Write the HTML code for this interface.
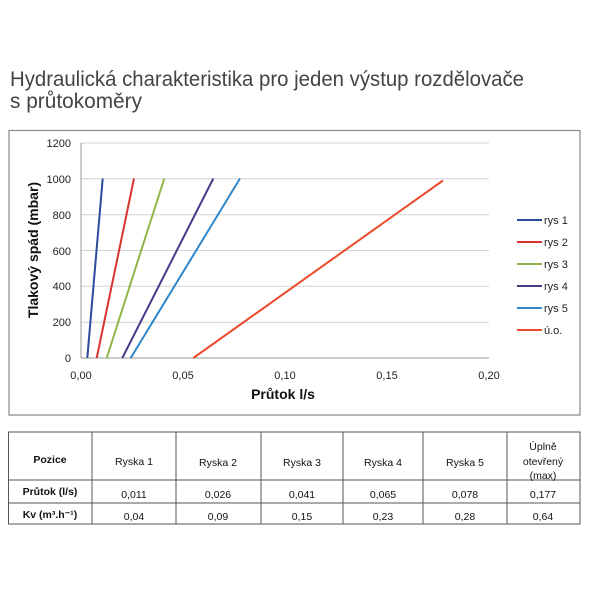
<!DOCTYPE html>
<html><head><meta charset="utf-8"><style>
body{margin:0;background:#fff;width:600px;height:600px;overflow:hidden}
svg{display:block}
</style></head><body>
<svg width="600" height="600" xmlns="http://www.w3.org/2000/svg" font-family="Liberation Sans, sans-serif">
<rect width="600" height="600" fill="#fff"/>
<text x="10" y="86" font-size="21" fill="#444" textLength="514" lengthAdjust="spacingAndGlyphs">Hydraulická charakteristika pro jeden výstup rozdělovače</text>
<text x="10" y="108" font-size="21" fill="#444" textLength="132" lengthAdjust="spacingAndGlyphs">s průtokoměry</text>
<rect x="9" y="130.5" width="571" height="284.5" fill="none" stroke="#888" stroke-width="1.2"/>
<g stroke="#d4d4d4" stroke-width="1">
<line x1="81" y1="143" x2="489" y2="143"/><line x1="81" y1="178.8" x2="489" y2="178.8"/>
<line x1="81" y1="214.7" x2="489" y2="214.7"/><line x1="81" y1="250.5" x2="489" y2="250.5"/>
<line x1="81" y1="286.3" x2="489" y2="286.3"/><line x1="81" y1="322.2" x2="489" y2="322.2"/>
<line x1="81" y1="358" x2="489" y2="358"/>
</g>
<line x1="81" y1="143" x2="81" y2="358" stroke="#999"/>
<line x1="81" y1="358" x2="489" y2="358" stroke="#999"/>
<g font-size="11" fill="#222" text-anchor="end">
<text x="71" y="147">1200</text><text x="71" y="183">1000</text><text x="71" y="219">800</text>
<text x="71" y="255">600</text><text x="71" y="290">400</text><text x="71" y="326">200</text><text x="71" y="362">0</text>
</g>
<g font-size="11" fill="#222" text-anchor="middle">
<text x="81" y="379">0,00</text><text x="183" y="379">0,05</text><text x="285" y="379">0,10</text>
<text x="387" y="379">0,15</text><text x="489" y="379">0,20</text>
</g>
<text x="283" y="399" font-size="14" font-weight="bold" text-anchor="middle" fill="#111">Průtok l/s</text>
<text transform="translate(38,250) rotate(-90)" font-size="14" font-weight="bold" text-anchor="middle" fill="#111">Tlakový spád (mbar)</text>
<g stroke-width="2" fill="none">
<line x1="87.3" y1="358" x2="102.7" y2="178.5" stroke="#2b4c9b"/>
<line x1="96.7" y1="358" x2="134" y2="178.5" stroke="#d9342f"/>
<line x1="106.7" y1="358" x2="164.3" y2="178.5" stroke="#90b548"/>
<line x1="122.3" y1="358" x2="213.3" y2="178.5" stroke="#4a3a8a"/>
<line x1="130.7" y1="358" x2="240" y2="178.5" stroke="#2f86c8"/>
<line x1="193.3" y1="358" x2="443" y2="180.5" stroke="#ec4a2c"/>
</g>
<g stroke-width="2">
<line x1="517" y1="220" x2="542" y2="220" stroke="#2b4c9b"/>
<line x1="517" y1="242" x2="542" y2="242" stroke="#d9342f"/>
<line x1="517" y1="264" x2="542" y2="264" stroke="#90b548"/>
<line x1="517" y1="286" x2="542" y2="286" stroke="#4a3a8a"/>
<line x1="517" y1="308" x2="542" y2="308" stroke="#2f86c8"/>
<line x1="517" y1="330" x2="542" y2="330" stroke="#ec4a2c"/>
</g>
<g font-size="11" fill="#222">
<text x="544" y="224">rys 1</text><text x="544" y="246">rys 2</text><text x="544" y="268">rys 3</text>
<text x="544" y="290">rys 4</text><text x="544" y="312">rys 5</text><text x="544" y="334">ú.o.</text>
</g>
<g stroke="#555" stroke-width="1" fill="none">
<rect x="8.5" y="432" width="571.5" height="92"/>
<line x1="8.5" y1="480" x2="580" y2="480"/><line x1="8.5" y1="503" x2="580" y2="503"/>
<line x1="92" y1="432" x2="92" y2="524"/><line x1="176" y1="432" x2="176" y2="524"/>
<line x1="261" y1="432" x2="261" y2="524"/><line x1="343" y1="432" x2="343" y2="524"/>
<line x1="423" y1="432" x2="423" y2="524"/><line x1="507" y1="432" x2="507" y2="524"/>
</g>
<g font-size="10.5" fill="#111" text-anchor="middle">
<text x="50" y="463" font-weight="bold">Pozice</text>
<text x="134" y="465">Ryska 1</text><text x="218" y="466">Ryska 2</text><text x="302" y="466">Ryska 3</text>
<text x="383" y="466">Ryska 4</text><text x="465" y="466">Ryska 5</text>
<text x="543" y="450">Úplně</text><text x="543" y="465">otevřený</text><text x="543" y="479">(max)</text>
<text x="50" y="495" font-weight="bold">Průtok (l/s)</text>
<text x="134" y="498">0,011</text><text x="218" y="498">0,026</text><text x="302" y="498">0,041</text>
<text x="383" y="498">0,065</text><text x="465" y="498">0,078</text><text x="543" y="498">0,177</text>
<text x="50" y="518" font-weight="bold">Kv (m³.h⁻¹)</text>
<text x="134" y="520">0,04</text><text x="218" y="520">0,09</text><text x="302" y="520">0,15</text>
<text x="383" y="520">0,23</text><text x="465" y="520">0,28</text><text x="543" y="520">0,64</text>
</g>
</svg>
</body></html>
